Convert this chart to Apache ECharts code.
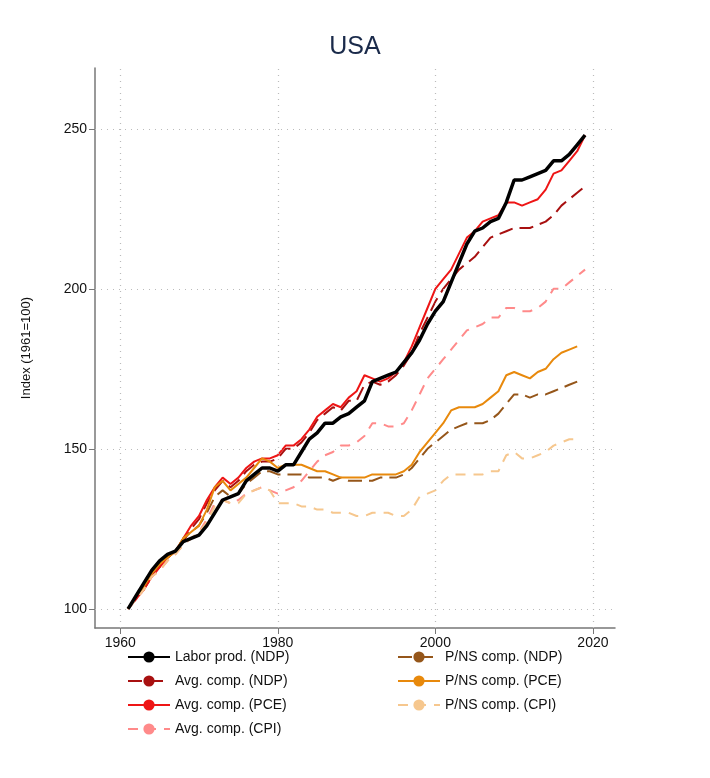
<!DOCTYPE html>
<html>
<head>
<meta charset="utf-8">
<script src="https://cdn.jsdelivr.net/npm/echarts@6/dist/echarts.min.js"></script>
<style>html,body{margin:0;padding:0;background:#fff}#chart{width:710px;height:778px}</style>
</head>
<body>
<div id="chart"></div>
<script>
var years = [];
for (var y = 1961; y <= 2019; y++) years.push(y);

var laborNdp = [100,104,108,112,115,117,118,121,122,123,126,130,134,135,136,140,142,144,144,143,145,145,149,153,155,158,158,160,161,163,165,171,172,173,174,177,180,184,189,193,196,202,208,214,218,219,221,222,227,234,234,235,236,237,240,240,242,245,248];
var avgNdp = [100,103,106,110,113,116,118,121,125,128,133,137,140,138,140,143,145,146,146,147,150,150,152,155,159,161,163,162,165,165,170,171,170,171,173,176,180,186,191,196,200,203,206,208,210,213,216,217,218,219,219,219,220,221,223,226,228,230,232];
var avgPce = [100,103,106,110,113,116,118,122,126,129,134,138,141,139,141,144,146,147,147,148,151,151,153,156,160,162,164,163,166,168,173,172,171,172,174,177,182,188,194,200,203,206,211,216,218,221,222,223,227,227,226,227,228,231,236,237,240,243,248];
var avgCpi = [100,103,106,110,112,115,117,120,122,124,128,133,134,133,134,136,137,138,137,136,137,138,140,143,146,148,149,151,151,152,154,158,158,157,157,158,162,167,172,175,178,181,184,187,188,189,191,191,194,194,193,193,194,196,200,200,202,204,206];
var pnsNdp = [100,104,107,111,114,116,118,122,124,126,130,135,137,135,136,139,141,143,143,142,142,142,142,141,141,141,140,141,140,140,140,140,141,141,141,142,144,147,150,152,154,156,157,158,158,158,159,161,164,167,167,166,167,167,168,169,170,171,null];
var pnsPce = [100,104,107,111,114,116,118,122,124,126,131,138,140,137,139,141,144,147,146,144,145,145,145,144,143,143,142,141,141,141,141,142,142,142,142,143,145,149,152,155,158,162,163,163,163,164,166,168,173,174,173,172,174,175,178,180,181,182,null];
var pnsCpi = [100,103,106,110,112,115,117,120,122,124,127,132,134,133,133,136,137,138,137,133,133,133,132,132,131,131,130,130,130,129,129,130,130,130,129,129,131,135,136,137,140,142,142,142,142,142,143,143,148,149,147,147,148,149,151,152,153,153,null];

var yTicks = [100, 150, 200, 250];
var xTicks = [1960, 1980, 2000, 2020];

function pairs(arr) {
	return years.map(function(yr, i) { return [yr, arr[i]]; });
}

var chart = echarts.init(document.getElementById('chart'));

var gridLines = yTicks.map(function(v) { return { yAxis: v }; })
	.concat(xTicks.map(function(v) { return { xAxis: v }; }));

function line(name, data, color, width, dash) {
	return {
		name: name,
		type: 'line',
		data: pairs(data),
		symbol: 'none',
		showSymbol: false,
		connectNulls: false,
		lineStyle: { color: color, width: width, type: dash || 'solid' },
		itemStyle: { color: color }
	};
}

var series = [
	line('Labor prod. (NDP)', laborNdp, '#000000', 3.5),
	line('Avg. comp. (NDP)', avgNdp, '#a81010', 2, [14, 7]),
	line('Avg. comp. (PCE)', avgPce, '#ee1515', 2),
	line('Avg. comp. (CPI)', avgCpi, '#ff8a8a', 2, [10, 8]),
	line('P/NS comp. (NDP)', pnsNdp, '#95561a', 2, [14, 7]),
	line('P/NS comp. (PCE)', pnsPce, '#e8890c', 2),
	line('P/NS comp. (CPI)', pnsCpi, '#f6c78e', 2, [10, 8])
];
series[0].z = 5;
series.push({
	type: 'line', data: [], silent: true,
	markLine: {
		silent: true, symbol: 'none', label: { show: false },
		lineStyle: { color: '#bbbbbb', type: [1, 5], width: 1.2 },
		data: gridLines
	}
});

var legendText = { fontSize: 14, color: '#111', fontFamily: 'Liberation Sans' };

chart.setOption({
	animation: false,
	title: {
		text: 'USA', left: 'center', top: 30,
		textStyle: { fontSize: 25, fontWeight: 'normal', color: '#1a2a4a', fontFamily: 'Liberation Sans' }
	},
	grid: { left: 95, right: 95, top: 68, bottom: 150 },
	legend: [{
		id: 'legA', orient: 'vertical', left: 122, top: 645, itemWidth: 42, itemHeight: 14, itemGap: 10,
		textStyle: legendText,
		data: ['Labor prod. (NDP)', 'Avg. comp. (NDP)', 'Avg. comp. (PCE)', 'Avg. comp. (CPI)']
	}, {
		id: 'legB', orient: 'vertical', left: 392, top: 645, itemWidth: 42, itemHeight: 14, itemGap: 10,
		textStyle: legendText,
		data: ['P/NS comp. (NDP)', 'P/NS comp. (PCE)', 'P/NS comp. (CPI)']
	}],
	xAxis: {
		type: 'value', min: 1956.8, max: 2022.8,
		axisLine: { lineStyle: { color: '#777', width: 1.5 } },
		axisTick: { show: true, customValues: xTicks, length: 6, lineStyle: { color: '#777' } },
		axisLabel: { customValues: xTicks, formatter: function(v) { return String(v); }, fontSize: 14, color: '#111', fontFamily: 'Liberation Sans' },
		splitLine: { show: false }
	},
	yAxis: {
		type: 'value', min: 94, max: 269,
		name: 'Index (1961=100)', nameLocation: 'middle', nameGap: 62, nameRotate: 90,
		nameTextStyle: { fontSize: 13, color: '#111', fontFamily: 'Liberation Sans' },
		axisLine: { show: true, lineStyle: { color: '#777', width: 1.5 } },
		axisTick: { show: true, customValues: yTicks, length: 6, lineStyle: { color: '#777' } },
		axisLabel: { customValues: yTicks, formatter: function(v) { return String(v); }, fontSize: 14, color: '#111', fontFamily: 'Liberation Sans' },
		splitLine: { show: false }
	},
	series: series
});
</script>
</body>
</html>
